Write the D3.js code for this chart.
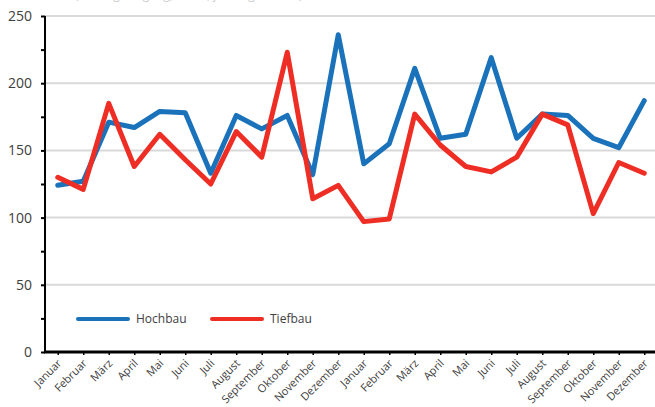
<!DOCTYPE html>
<html>
<head>
<meta charset="utf-8">
<script src="https://cdn.jsdelivr.net/npm/d3@7"></script>
<style>
  body { margin: 0; background: #fff; }
  svg { display: block; font-family: "Open Sans", "Noto Sans", sans-serif; }
</style>
</head>
<body>
<svg id="chart" width="655" height="407"></svg>
<script>
var months = ['Januar', 'Februar', 'März', 'April', 'Mai', 'Juni', 'Juli', 'August', 'September', 'Oktober', 'November', 'Dezember',
              'Januar', 'Februar', 'März', 'April', 'Mai', 'Juni', 'Juli', 'August', 'September', 'Oktober', 'November', 'Dezember'];

var hochbau = [124, 127, 171, 167, 179, 178, 133, 176, 166, 176, 132, 236,
               140, 155, 211, 159, 162, 219, 159, 177, 176, 159, 152, 187];

var tiefbau = [130, 121, 185, 138, 162, 143, 125, 164, 145, 223, 114, 124,
               97, 99, 177, 154, 138, 134, 145, 177, 169, 103, 141, 133];

var yTicks = [0, 50, 100, 150, 200, 250];
var yMinor = [25, 75, 125, 175, 225];

var series = [
  {name: 'Hochbau', values: hochbau, color: '#1a72ba'},
  {name: 'Tiefbau', values: tiefbau, color: '#ee2e24'}
];

var svg = d3.select('#chart');
var plotLeft = 45, plotRight = 657, plotTop = 16, plotBottom = 352;

var x = d3.scalePoint()
  .domain(d3.range(months.length))
  .range([plotLeft, plotRight])
  .padding(0.5);

var y = d3.scaleLinear()
  .domain([0, 250])
  .range([plotBottom, plotTop]);

// header text, mostly cut off at the top edge like in the original
svg.append('text')
  .attr('x', 75)
  .attr('y', -1)
  .attr('fill', '#ccc')
  .style('font-size', '12px')
  .text('(Auftragseingang, Index, jeweilige Preise)');

// gridlines
svg.append('g')
  .selectAll('line')
  .data(yTicks.slice(1))
  .enter().append('line')
    .attr('x1', plotLeft)
    .attr('x2', 655)
    .attr('y1', function (d) { return y(d); })
    .attr('y2', function (d) { return y(d); })
    .attr('stroke', '#d9d9d9')
    .attr('stroke-width', 2);

// y axis
var yAxis = svg.append('g')
  .attr('transform', 'translate(' + plotLeft + ',0)')
  .call(d3.axisLeft(y).tickValues(yTicks.concat(yMinor)).tickSize(4).tickFormat(function (d) {
    return yTicks.indexOf(d) >= 0 ? d : '';
  }));
yAxis.select('.domain').attr('stroke', '#000').attr('stroke-width', 2).attr('d', 'M0,' + plotTop + 'V' + plotBottom);
yAxis.selectAll('.tick line').attr('stroke', '#000').attr('stroke-width', 2);
yAxis.selectAll('.tick text')
  .attr('x', -13)
  .attr('fill', '#404040')
  .style('font-size', '14px')
  .style('font-family', '"Open Sans", sans-serif');

// x axis
var xAxis = svg.append('g')
  .attr('transform', 'translate(0,' + plotBottom + ')')
  .call(d3.axisBottom(x).tickSize(3).tickFormat(function (i) { return months[i]; }));
xAxis.select('.domain').attr('stroke', '#000').attr('stroke-width', 3).attr('d', 'M' + (plotLeft - 1) + ',0H' + plotRight);
xAxis.selectAll('.tick line').attr('stroke', '#000').attr('stroke-width', 1.5);
xAxis.selectAll('.tick text')
  .attr('fill', '#404040')
  .style('font-size', '11px')
  .style('font-family', '"Open Sans", sans-serif')
  .style('text-anchor', 'end')
  .attr('dy', null)
  .attr('x', 0)
  .attr('y', 0)
  .attr('transform', 'translate(4,12) rotate(-45)');

// lines
var line = d3.line()
  .x(function (d, i) { return x(i); })
  .y(function (d) { return y(d); });

svg.selectAll('.series')
  .data(series)
  .enter().append('path')
    .attr('class', 'series')
    .attr('d', function (d) { return line(d.values); })
    .attr('fill', 'none')
    .attr('stroke', function (d) { return d.color; })
    .attr('stroke-width', 5)
    .attr('stroke-linejoin', 'round')
    .attr('stroke-linecap', 'round');

// legend
var legend = svg.selectAll('.legend')
  .data(series)
  .enter().append('g')
    .attr('class', 'legend')
    .attr('transform', function (d, i) { return 'translate(' + (78 + i * 134) + ',319)'; });

legend.append('line')
  .attr('x1', 0)
  .attr('x2', 50)
  .attr('stroke', function (d) { return d.color; })
  .attr('stroke-width', 4)
  .attr('stroke-linecap', 'round');

legend.append('text')
  .attr('x', 58)
  .attr('dy', '0.35em')
  .attr('fill', '#404040')
  .style('font-size', '12px')
  .text(function (d) { return d.name; });
</script>
</body>
</html>
